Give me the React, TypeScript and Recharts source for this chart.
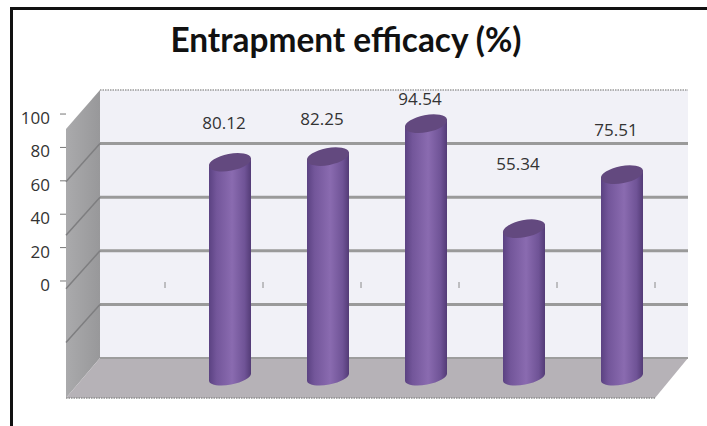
import { ComposedChart, Bar, Line, XAxis, YAxis, CartesianGrid, LabelList, ReferenceLine } from "recharts";

const categories = ["A", "B", "C", "D", "E"];
const efficacy = [80.12, 82.25, 94.54, 55.34, 75.51];
const axisTicks = [0, 20, 40, 60, 80, 100];
const innerGridValues = [20, 40, 60, 80];
const slantValues = [20, 40, 60, 80];
const tickSlots = [0, 1, 2, 3, 4, 5];

const data = categories.map((name, i) => ({ name, slot: i, value: efficacy[i] }));

const FONT = "'Open Sans', sans-serif";

// Cylinder with a tilted elliptical cap, standing on the value baseline
function Cylinder(props: any) {
  const { x, y, width, height } = props;
  const rx = width / 2;
  const ry = 7.5;
  const rise = 4;
  const left = x;
  const right = x + width;
  const bottom = y + height;
  const body = `M${left},${y + rise} L${left},${bottom + rise} A${rx},${ry} -11 0 0 ${right},${bottom - rise} L${right},${y - rise} Z`;
  return (
    <g>
      <path d={body} fill="url(#cylinderBody)" />
      <ellipse
        cx={x + rx}
        cy={y}
        rx={rx + 0.4}
        ry={ry + 1}
        fill="#63497f"
        transform={`rotate(-11 ${x + rx} ${y})`}
      />
    </g>
  );
}

function ValueLabel(props: any) {
  const { x, y, value } = props;
  return (
    <text x={x - 6} y={y - 23} dy={4.5} textAnchor="middle" fontFamily={FONT} fontSize={17} fill="#333">
      {value.toFixed(2)}
    </text>
  );
}

// Box walls behind the plot
function Walls() {
  return (
    <svg width={707} height={426} style={{ position: "absolute", left: 0, top: 0 }}>
      <defs>
        <linearGradient id="sideWall" x1="0" y1="0" x2="1" y2="0">
          <stop offset="0" stopColor="#aaaaac" />
          <stop offset="1" stopColor="#98989a" />
        </linearGradient>
      </defs>
      <polygon points="100,90 688,90 688,358 100,358" fill="#f1f1f7" />
      <polygon points="66,129 100,90 100,358 66,398" fill="url(#sideWall)" />
      <polygon points="100,358 688,358 655,398 66,398" fill="#b6b2b7" />
      <line x1={100} y1={90} x2={688} y2={90} stroke="#9a9a9a" strokeWidth={1.5} strokeDasharray="1.5 1" />
      <line x1={66} y1={398} x2={655} y2={398} stroke="#8d8d8d" strokeWidth={1.5} strokeDasharray="1.5 1" />
      <line x1={100} y1={358} x2={688} y2={358} stroke="#9d9d9d" strokeWidth={2} />
    </svg>
  );
}

export default function App() {
  return (
    <div style={{ position: "absolute", left: 0, top: 0, width: 707, height: 426, background: "#fff", overflow: "hidden" }}>
      <div style={{ position: "absolute", left: 10, top: 7, right: -5, bottom: -5, borderTop: "3px solid #111", borderLeft: "3px solid #111" }} />
      <Walls />
      <div style={{ position: "absolute", left: 0, top: 0 }}>
        <ComposedChart width={707} height={426} data={data} margin={{ top: 90, right: 19, bottom: 49, left: 0 }}>
          <defs>
            <linearGradient id="cylinderBody" x1="0" y1="0" x2="1" y2="0">
              <stop offset="0" stopColor="#5b4282" />
              <stop offset="0.18" stopColor="#73569a" />
              <stop offset="0.55" stopColor="#8a6bb0" />
              <stop offset="0.85" stopColor="#6f5396" />
              <stop offset="1" stopColor="#533b76" />
            </linearGradient>
          </defs>
          <text x={346} y={52} textAnchor="middle" fontFamily="Lato, sans-serif" fontWeight={700} fontSize={33.4} fill="#111">
            Entrapment efficacy (%)
          </text>
          <XAxis xAxisId="bars" dataKey="name" hide padding={{ left: 115, right: 17 }} />
          <XAxis xAxisId="slots" dataKey="slot" type="number" scale="linear" domain={[-1.0102, 5.3367]} allowDataOverflow hide />
          <YAxis
            yAxisId="axis"
            width={66}
            domain={[-57.5, 114.4]}
            allowDataOverflow
            ticks={axisTicks}
            axisLine={false}
            tickSize={6}
            tickMargin={10}
            tickLine={{ stroke: "#777" }}
            tick={{ fontFamily: FONT, fontSize: 17, fill: "#333", dy: 4 }}
            interval={0}
          />
          <YAxis yAxisId="wall" hide domain={[-7.09, 100]} allowDataOverflow ticks={axisTicks} />
          <YAxis yAxisId="value" hide domain={[0, 107.09]} />
          <CartesianGrid
            xAxisId="slots"
            yAxisId="wall"
            x={100}
            width={588}
            vertical={false}
            horizontalValues={innerGridValues}
            stroke="#9a9a9a"
            strokeWidth={3}
          />
          {slantValues.map((v) => (
            <ReferenceLine
              key={v}
              xAxisId="slots"
              yAxisId="wall"
              segment={[
                { x: -1.0102, y: v - 14.2 },
                { x: -0.6633, y: v },
              ]}
              stroke="#7e7e80"
              strokeWidth={1.5}
            />
          ))}
          {tickSlots.map((slot) => (
            <ReferenceLine
              key={slot}
              xAxisId="slots"
              yAxisId="axis"
              segment={[
                { x: slot, y: -0.6 },
                { x: slot, y: -4.2 },
              ]}
              stroke="#8a8a8a"
              strokeWidth={1}
            />
          ))}
          <Bar
            xAxisId="bars"
            yAxisId="value"
            dataKey="value"
            barSize={42}
            shape={<Cylinder />}
            isAnimationActive={false}
          />
          <Line
            xAxisId="bars"
            yAxisId="axis"
            dataKey="value"
            stroke="none"
            dot={false}
            legendType="none"
            isAnimationActive={false}
          >
            <LabelList dataKey="value" content={<ValueLabel />} />
          </Line>
        </ComposedChart>
      </div>
    </div>
  );
}
